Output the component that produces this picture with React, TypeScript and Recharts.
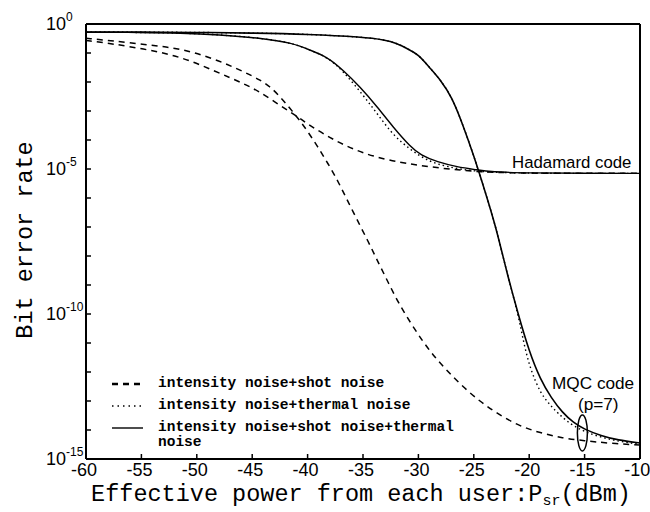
import { LineChart, Line, XAxis, YAxis, ReferenceDot, Legend } from "recharts";

// x in dBm, y as log10(BER)
const hadShotX = [-60, -57.6, -54.5, -51.5, -48.5, -45.5, -44.3, -42.5, -40.9, -39.8, -38, -36.2, -34.1, -31.6, -29.8, -28, -26.2, -24.4, -22, -18, -14, -10];
const hadShotY = [-0.57, -0.68, -0.88, -1.12, -1.6, -2.1, -2.35, -2.8, -3.2, -3.5, -3.92, -4.27, -4.57, -4.78, -4.88, -4.97, -5.04, -5.1, -5.13, -5.15, -5.15, -5.15];

const hadThermX = [-60, -55, -51.5, -48, -44.3, -41.3, -39.8, -38.2, -36.8, -35, -33.7, -32.3, -30.7, -29.2, -27.4, -25, -22, -18, -14, -10];
const hadThermY = [-0.28, -0.29, -0.31, -0.37, -0.48, -0.66, -0.9, -1.14, -1.62, -2.45, -3.1, -3.83, -4.34, -4.72, -4.93, -5.08, -5.13, -5.15, -5.15, -5.15];

const hadAllX = [-60, -55, -51.5, -48, -44.3, -41.3, -39.8, -38.2, -36.8, -35.25, -33.7, -32.3, -30.7, -29.8, -28.3, -26.5, -24.7, -23.5, -20, -15, -10];
const hadAllY = [-0.28, -0.29, -0.31, -0.37, -0.48, -0.66, -0.9, -1.14, -1.59, -2.17, -2.86, -3.55, -4.24, -4.52, -4.76, -4.93, -5.03, -5.1, -5.14, -5.15, -5.15];

const mqcShotX = [-60, -57.6, -54.5, -51.5, -48.5, -45.5, -44.3, -43.4, -42.5, -41.6, -40.7, -40, -39.1, -38.2, -37.3, -35.9, -34.5, -33.6, -32.7, -31.8, -30.7, -29.6, -28.5, -27.3, -26, -24.5, -23, -21, -19, -17, -15, -13, -10];
const mqcShotY = [-0.49, -0.58, -0.72, -0.84, -1.18, -1.69, -1.93, -2.15, -2.5, -2.9, -3.33, -3.7, -4.22, -4.79, -5.38, -6.48, -7.52, -8.24, -8.93, -9.62, -10.31, -10.95, -11.5, -12.0, -12.5, -13.0, -13.4, -13.85, -14.1, -14.28, -14.37, -14.45, -14.52];

const mqcThermX = [-60, -55, -50, -45, -40, -35, -33, -32, -31, -30, -29, -28, -27, -26, -25, -24, -23, -22, -21, -20.5, -19.9, -19, -18.2, -17.45, -16, -13.8, -11.1, -10];
const mqcThermY = [-0.28, -0.28, -0.29, -0.31, -0.35, -0.45, -0.55, -0.66, -0.85, -1.05, -1.5, -1.93, -2.5, -3.46, -4.54, -5.75, -7.0, -8.6, -10.0, -11.0, -11.9, -12.72, -13.1, -13.41, -13.9, -14.24, -14.45, -14.48];

const mqcAllX = [-60, -55, -50, -45, -40, -35, -33, -32, -31, -30, -29, -28, -27, -26, -25, -24, -23, -22, -21, -20, -19, -18, -17, -16, -15, -13.5, -12, -10];
const mqcAllY = [-0.28, -0.28, -0.29, -0.31, -0.35, -0.45, -0.55, -0.66, -0.85, -1.05, -1.5, -1.93, -2.5, -3.46, -4.54, -5.75, -7.0, -8.6, -10.0, -11.3, -12.25, -12.9, -13.4, -13.75, -13.98, -14.2, -14.35, -14.45];

const xTicks = [-60, -55, -50, -45, -40, -35, -30, -25, -20, -15, -10];
const decades = [0, -1, -2, -3, -4, -5, -6, -7, -8, -9, -10, -11, -12, -13, -14, -15];
const yTicks = decades.map((e) => Math.pow(10, e));

const legendItems = [
  { label: ["intensity noise+shot noise"], dash: "6 5", width: 2.6 },
  { label: ["intensity noise+thermal noise"], dash: "1.5 4", width: 1.6 },
  { label: ["intensity noise+shot noise+thermal", "noise"], dash: undefined, width: 1.4 },
];

const toPoints = (xs: number[], ys: number[]) => xs.map((x, i) => ({ x, ber: Math.pow(10, ys[i]) }));

const SANS = "'Liberation Sans Narrow', 'Liberation Sans', Arial, sans-serif";
const MONO = "'Liberation Mono', 'Courier New', monospace";

const YTick = (props: any) => {
  const { x, y, payload } = props;
  const e = Math.round(Math.log10(payload.value));
  if (e % 5 !== 0) return <g />;
  return (
    <text x={x - 35} y={y} dy="0.36em" fontFamily={SANS} fontSize={18} fill="#000" textAnchor="start">
      <tspan>10</tspan>
      <tspan dy={-9} fontSize={12}>{e}</tspan>
    </text>
  );
};

const XTick = (props: any) => {
  const { x, y, payload } = props;
  return (
    <text x={x - 2} y={y} dy="0.72em" fontFamily={SANS} fontSize={18} fill="#000" textAnchor="middle">
      {payload.value}
    </text>
  );
};

const XTitle = (props: any) => {
  const { viewBox } = props;
  return (
    <text x={viewBox.x + viewBox.width / 2 - 2} y={viewBox.y + 42} fontFamily={MONO} fontSize={23.5} fill="#000" textAnchor="middle">
      Effective power from each user:P<tspan fontSize={15} dy={4}>sr</tspan>
      <tspan dy={-4}>(dBm)</tspan>
    </text>
  );
};

const YTitle = () => (
  <text x={32} y={240} transform="rotate(-90 32 240)" fontFamily={MONO} fontSize={23.5} fill="#000" textAnchor="middle">
    Bit error rate
  </text>
);

const LegendBox = () => (
  <div style={{ fontFamily: MONO, fontWeight: 700, fontSize: 14.5, color: "#000" }}>
    {legendItems.map((it, i) => (
      <div key={i} style={{ display: "flex", alignItems: "flex-start", height: 22 }}>
        <svg width={31} height={16} style={{ marginRight: 15, flex: "none" }}>
          <line x1={0} x2={31} y1={8} y2={8} stroke="#000" strokeWidth={it.width} strokeDasharray={it.dash} />
        </svg>
        <div style={{ lineHeight: "15px" }}>
          {it.label.map((l, j) => (
            <div key={j}>{l}</div>
          ))}
        </div>
      </div>
    ))}
  </div>
);

const textShape = (label: string, size: number) => (p: any) => (
  <text x={p.cx} y={p.cy} fontFamily={SANS} fontSize={size} fill="#000">
    {label}
  </text>
);

export default function App() {
  const axisLine = { stroke: "#000", strokeWidth: 2 };
  const tickLine = { stroke: "#000", strokeWidth: 1.5 };
  const curve = "basis" as const;
  return (
    <div style={{ position: "absolute", left: 0, top: 0, width: 650, height: 512, background: "#fff" }}>
      <LineChart width={650} height={512} margin={{ top: 0, right: 0, bottom: 0, left: 0 }}>
        <XAxis xAxisId="b" dataKey="x" type="number" domain={[-60, -10]} ticks={xTicks} allowDataOverflow
          height={53} axisLine={axisLine} tickLine={tickLine} tickSize={-5} tickMargin={9} tick={<XTick />} label={<XTitle />} />
        <XAxis xAxisId="t" orientation="top" type="number" domain={[-60, -10]} ticks={xTicks} allowDataOverflow
          height={24} axisLine={axisLine} tickLine={tickLine} tickSize={-5} tick={false} />
        <YAxis yAxisId="l" type="number" scale="log" domain={[1e-15, 1]} ticks={yTicks} allowDataOverflow
          width={86} axisLine={axisLine} tickLine={tickLine} tickSize={-5} tickMargin={10} tick={<YTick />} label={<YTitle />} />
        <YAxis yAxisId="r" orientation="right" type="number" scale="log" domain={[1e-15, 1]} ticks={yTicks} allowDataOverflow
          width={10} axisLine={axisLine} tickLine={tickLine} tickSize={-5} tick={false} />

        <Line xAxisId="b" yAxisId="l" data={toPoints(hadShotX, hadShotY)} dataKey="ber" type={curve} stroke="#000" strokeWidth={1.5} strokeDasharray="6 5" dot={false} isAnimationActive={false} />
        <Line xAxisId="b" yAxisId="l" data={toPoints(hadThermX, hadThermY)} dataKey="ber" type={curve} stroke="#000" strokeWidth={1.4} strokeDasharray="1.5 3" dot={false} isAnimationActive={false} />
        <Line xAxisId="b" yAxisId="l" data={toPoints(hadAllX, hadAllY)} dataKey="ber" type={curve} stroke="#000" strokeWidth={1.4} dot={false} isAnimationActive={false} />
        <Line xAxisId="b" yAxisId="l" data={toPoints(mqcShotX, mqcShotY)} dataKey="ber" type={curve} stroke="#000" strokeWidth={1.5} strokeDasharray="6 5" dot={false} isAnimationActive={false} />
        <Line xAxisId="b" yAxisId="l" data={toPoints(mqcThermX, mqcThermY)} dataKey="ber" type={curve} stroke="#000" strokeWidth={1.4} strokeDasharray="1.5 3" dot={false} isAnimationActive={false} />
        <Line xAxisId="b" yAxisId="l" data={toPoints(mqcAllX, mqcAllY)} dataKey="ber" type={curve} stroke="#000" strokeWidth={1.6} dot={false} isAnimationActive={false} />

        <ReferenceDot xAxisId="b" yAxisId="l" x={-15.2} y={Math.pow(10, -14.1)} r={0} ifOverflow="visible"
          shape={(p: any) => <ellipse cx={p.cx} cy={p.cy} rx={5} ry={18} fill="none" stroke="#000" strokeWidth={1.5} />} />
        <ReferenceDot xAxisId="b" yAxisId="l" x={-21.55} y={Math.pow(10, -4.97)} r={0} ifOverflow="visible" shape={textShape("Hadamard code", 16.8)} />
        <ReferenceDot xAxisId="b" yAxisId="l" x={-17.94} y={Math.pow(10, -12.59)} r={0} ifOverflow="visible" shape={textShape("MQC code", 17.2)} />
        <ReferenceDot xAxisId="b" yAxisId="l" x={-15.6} y={Math.pow(10, -13.31)} r={0} ifOverflow="visible" shape={textShape("(p=7)", 17.2)} />

        <Legend content={<LegendBox />} layout="horizontal" verticalAlign="middle" align="center"
          wrapperStyle={{ left: 112, top: 376, width: 380 }} />
      </LineChart>
    </div>
  );
}
